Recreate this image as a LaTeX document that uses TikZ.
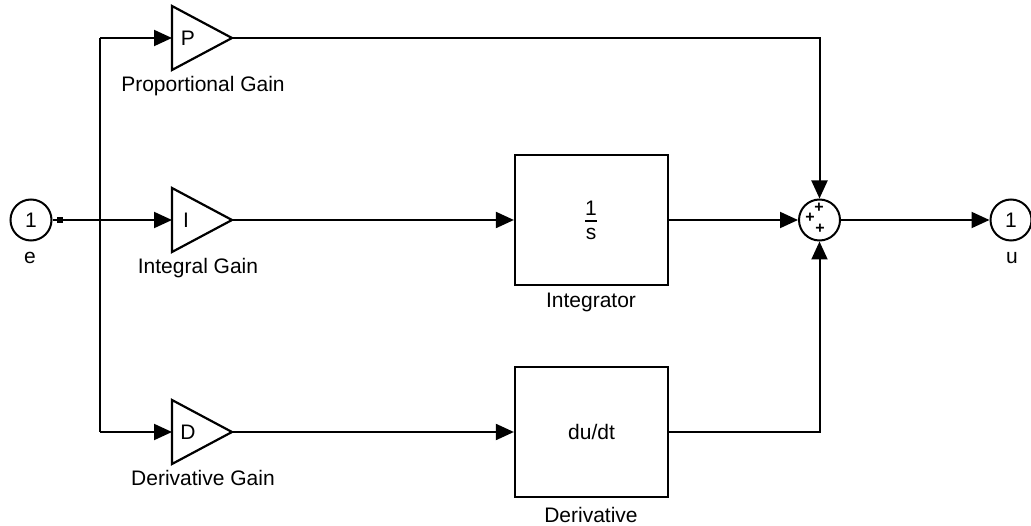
\documentclass[tikz,border=0pt]{standalone}
\usepackage{fontspec}
\setmainfont{Liberation Sans}
\usetikzlibrary{arrows.meta}
\begin{document}
\begin{tikzpicture}[x=1pt,y=-1pt,
  wire/.style={line width=2pt},
  arr/.style={wire,-{Triangle[length=18pt,width=16pt]}},
  blk/.style={draw,line width=2.2pt,minimum width=153pt,minimum height=130pt,inner sep=0pt},
  port/.style={draw,circle,line width=2pt,minimum size=41pt,inner sep=0pt,font=\fontsize{21}{24}\selectfont},
  lbl/.style={font=\fontsize{21}{24}\selectfont,inner sep=0pt},
  tri/.style={line width=2.2pt,line join=miter},
  sgn/.style={font=\fontsize{16}{16}\selectfont\bfseries,inner sep=0pt}
]
\useasboundingbox (0,0) rectangle (1031,526);
% ports
\node[port] (e) at (31,220) {1};
\node[lbl] (el) at (30,258) {e};
\node[port] (u) at (1011,220) {1};
\node[lbl] (ul) at (1012,258) {u};
\node[fill,minimum size=6pt,inner sep=0pt] (sq) at (60,220) {};
% gains
\draw[tri] (172,6) -- (232,38) -- (172,70) -- cycle;
\coordinate (Pin) at (172,38);
\coordinate (Pout) at (232,38);
\node[lbl] (Pt) at (188,38) {P};
\draw[tri] (172,188) -- (232,220) -- (172,252) -- cycle;
\coordinate (Iin) at (172,220);
\coordinate (Iout) at (232,220);
\node[lbl] (It) at (186,220) {I};
\draw[tri] (172,400) -- (232,432) -- (172,464) -- cycle;
\coordinate (Din) at (172,432);
\coordinate (Dout) at (232,432);
\node[lbl] (Dt) at (188,432) {D};
\node[lbl] (Pl) at (203,86) {Proportional Gain};
\node[lbl] (Il) at (198,268) {Integral Gain};
\node[lbl] (Dl) at (203,478) {Derivative Gain};
% blocks
\node[blk] (int) at (591.5,220) {};
\node[font=\fontsize{21}{22}\selectfont,inner sep=0pt] (one) at (591,208) {1};
\draw[line width=1.8pt] (585,221) -- (597,221);
\node[font=\fontsize{21}{22}\selectfont,inner sep=0pt] (ess) at (591,234) {s};
\node[lbl] (intl) at (591,302) {Integrator};
\node[blk] (der) at (591.5,432) {\fontsize{21}{24}\selectfont du/dt};
\node[lbl] (derl) at (591,515) {Derivative};
% sum
\node[draw,circle,line width=2pt,minimum size=41pt,inner sep=0pt] (sum) at (819.5,220) {};
\node[sgn] (s1) at (819,208) {+};
\node[sgn] (s2) at (810,218) {+};
\node[sgn] (s3) at (820,229) {+};
% junction coordinates
\coordinate (jt) at (100,38);
\coordinate (jm) at (100,220);
\coordinate (jb) at (100,432);
% wires
\draw[wire] (e.east) -- (sq) -- (jm);
\draw[wire] (jt) -- (jb);
\draw[arr] (jt) -- (Pin);
\draw[arr] (jm) -- (Iin);
\draw[arr] (jb) -- (Din);
\draw[arr] (Pout) -| (sum.north);
\draw[arr] (Iout) -- (int.west);
\draw[arr] (Dout) -- (der.west);
\draw[arr] (int.east) -- (sum.west);
\draw[arr] (der.east) -| (sum.south);
\draw[arr] (sum.east) -- (u.west);
\end{tikzpicture}
\end{document}
